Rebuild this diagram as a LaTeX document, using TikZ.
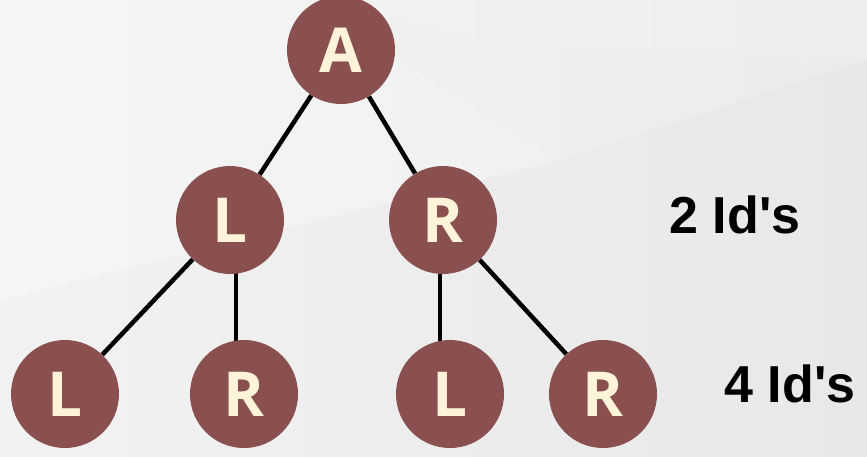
\documentclass[tikz,border=0pt]{standalone}
\usepackage{fontspec}
\setmainfont{Open Sans}
\newfontfamily\labelfont{Liberation Sans}
\usetikzlibrary{backgrounds}
\definecolor{nodefill}{HTML}{8A4F4F}
\definecolor{nodetext}{HTML}{FFF3DA}
\definecolor{bgA}{HTML}{F5F5F5}
\definecolor{bgB}{HTML}{EBEBEB}
\tikzset{
  treenode/.style={circle, fill=nodefill, minimum size=108pt, inner sep=0pt,
    text=nodetext, font=\fontsize{62}{62}\selectfont\bfseries},
  edge/.style={line width=4.5pt, black},
  countlabel/.style={font=\labelfont\fontsize{52}{52}\selectfont\bfseries, text=black, inner sep=0pt}
}
\begin{document}
\begin{tikzpicture}[x=1pt,y=-1pt]
\useasboundingbox (0,0) rectangle (867,457);
\node[treenode] (A) at (341,50) {A};
\node[treenode] (L1) at (230,220) {L};
\node[treenode] (R1) at (443,220) {R};
\node[treenode] (LL) at (65,394) {L};
\node[treenode] (LR) at (244,394) {R};
\node[treenode] (RL) at (450,394) {L};
\node[treenode] (RR) at (603,394) {R};
\node[countlabel] (c2) at (735,215) {2 Id's};
\node[countlabel] (c4) at (790,384) {4 Id's};
\begin{scope}[on background layer]
  \shade[left color=bgA, right color=bgB] (0,0) rectangle (867,457);
  \fill[white, opacity=0.15] (0,0) -- (300,0) -- (560,160) -- (0,300) -- cycle;
  \fill[white, opacity=0.12] (320,0) -- (867,0) -- (867,60) -- (480,40) -- cycle;
  \fill[black, opacity=0.012] (560,160) -- (867,60) -- (867,457) -- (640,457) -- cycle;
  \fill[black, opacity=0.01] (0,300) -- (560,160) -- (640,457) -- (0,457) -- cycle;
  \draw[edge] (A) -- (L1);
  \draw[edge] (A) -- (R1);
  \draw[edge] (L1) -- (LL);
  \draw[edge] ([xshift=6pt]L1.center) -- ([xshift=-8pt]LR.center);
  \draw[edge] ([xshift=-3pt]R1.center) -- ([xshift=-10pt]RL.center);
  \draw[edge] (R1) -- (RR);
\end{scope}
\end{tikzpicture}
\end{document}
